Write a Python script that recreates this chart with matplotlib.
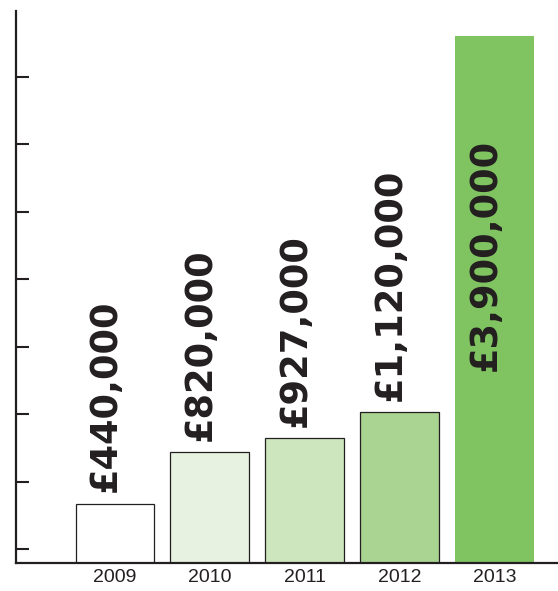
import matplotlib
matplotlib.use("Agg")
import matplotlib.pyplot as plt
import numpy as np

years = ["2009", "2010", "2011", "2012", "2013"]
amounts = [440000, 820000, 927000, 1120000, 3900000]
labels = ["£440,000", "£820,000", "£927,000", "£1,120,000", "£3,900,000"]
bar_colors = ["#ffffff", "#e7f3e0", "#cde6bd", "#a9d491", "#80c462"]
tick_values = [100000 + 500000 * k for k in range(8)]

ink = "#231f20"

fig = plt.figure(figsize=(5.58, 5.91), dpi=100)
ax = fig.add_axes([15.5 / 558, 28 / 591, 542.5 / 558, 552 / 591])

x = np.arange(len(years))
edges = [ink, ink, ink, ink, "none"]
ax.bar(x, amounts, width=0.83, color=bar_colors, edgecolor=edges, linewidth=0.9, zorder=2)

# value labels: above the small bars, inside the tall one
for i, (val, txt) in enumerate(zip(amounts, labels)):
    if i == len(amounts) - 1:
        ax.annotate(txt, (i, val), xytext=(-7, -74), textcoords="offset points",
                    rotation=90, ha="center", va="top", fontsize=26.5,
                    fontweight="bold", color=ink, family="DejaVu Sans")
    else:
        ax.annotate(txt, (i, val), xytext=(-7, 8), textcoords="offset points",
                    rotation=90, ha="center", va="bottom", fontsize=26.5,
                    fontweight="bold", color=ink, family="DejaVu Sans")

ax.set_xlim(-1.048, 4.668)
ax.set_ylim(0, 4085000)

ax.set_xticks(x)
ax.set_xticklabels(years, fontsize=14, color=ink, family="Liberation Sans")
ax.tick_params(axis="x", length=0, pad=4)

ax.set_yticks(tick_values)
ax.set_yticklabels([])
ax.tick_params(axis="y", direction="in", length=9.5, width=1.5, color=ink)

for side in ["top", "right"]:
    ax.spines[side].set_visible(False)
for side in ["left", "bottom"]:
    ax.spines[side].set_linewidth(1.6)
    ax.spines[side].set_color(ink)

fig.savefig("out.png", dpi=100)
